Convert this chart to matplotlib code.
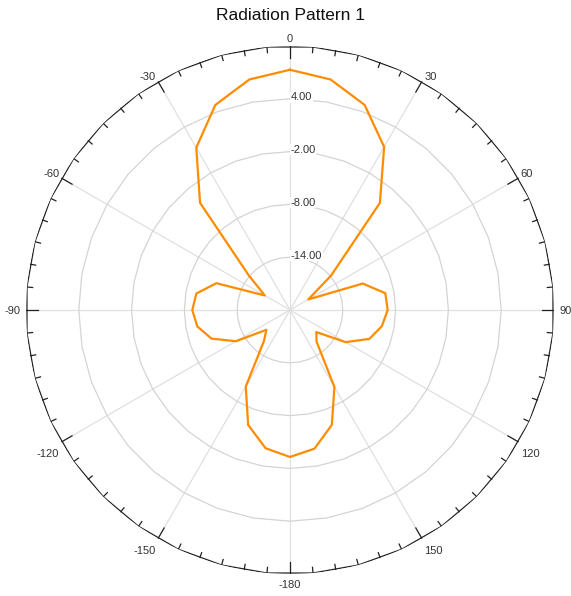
import numpy as np
import matplotlib.pyplot as plt

plt.rcParams['font.family'] = ['Liberation Sans', 'DejaVu Sans']

# angle in degrees, clockwise from north, gain in dB
angles = [0, 10, 20, 30, 40, 50, 60, 70, 80, 90, 100, 110, 120, 130, 140, 150, 160, 170,
          180, 190, 200, 210, 220, 230, 240, 250, 260, 270, 280, 290, 300, 310, 320, 330, 340, 350]
gain = [7.3, 6.6, 4.8, 1.4, -4.1, -13.9, -17.6, -11.2, -9.0, -8.9, -9.4, -10.4, -12.7, -16.1,
        -15.3, -9.9, -6.1, -4.0, -3.3, -4.05, -6.1, -9.95, -15.4, -16.5, -12.9, -10.5, -9.3,
        -8.9, -9.2, -11.1, -16.7, -13.9, -4.1, 1.3, 4.8, 6.6]
ring_vals = [-14, -8, -2, 4]
ring_labels = ['-14.00', '-8.00', '-2.00', '4.00']
spoke_angles = [0, 30, 60, 90, 120, 150, 180, 210, 240, 270, 300, 330]
spoke_labels = ['0', '30', '60', '90', '120', '150', '-180', '-150', '-120', '-90', '-60', '-30']
rmin, rmax = -20, 10

fig = plt.figure(figsize=(5.71, 5.96), dpi=100)
ax = fig.add_axes([0.0455, 0.0369, 0.9247, 0.8859], projection='polar')
ax.set_theta_zero_location('N')
ax.set_theta_direction(-1)
ax.set_ylim(rmin, rmax)
ax.grid(False)
ax.set_xticks([])
ax.set_yticks([])
ax.spines['polar'].set_visible(False)

# spokes
for a in spoke_angles:
    ax.plot([np.deg2rad(a)] * 2, [rmin, rmax], color='#e0e0e0', lw=0.9, zorder=1)

# polygonal rings
poly = np.deg2rad(np.arange(0, 361, 10))
for rv in ring_vals:
    ax.plot(poly, [rv] * len(poly), color='#d4d4d4', lw=0.9, zorder=1)

outer = np.deg2rad(np.arange(5, 366, 10))
ax.plot(outer, [rmax] * len(outer), color='#222222', lw=0.9, zorder=3)

# ticks on outer ring
for a in range(0, 360, 5):
    ln = 1.4 if a % 30 == 0 else 0.65
    ax.plot([np.deg2rad(a)] * 2, [rmax, rmax - ln], color='#222222', lw=0.9, zorder=3)

# angle labels, anchored by the corner nearest the ring
for a, lab in zip(spoke_angles, spoke_labels):
    s, c = np.sin(np.deg2rad(a)), np.cos(np.deg2rad(a))
    ha = 'left' if s > 0.1 else ('right' if s < -0.1 else 'center')
    if c > 0.1:
        va, dy = 'baseline', (3.0 if abs(s) < 0.1 else 1.0)
    elif c < -0.1:
        va, dy = 'top', (-4.5 if abs(s) < 0.1 else -5.0)
    else:
        va, dy = 'center', -1.0
    dx = 1.5 * np.sign(s) if abs(s) > 0.1 else 0
    if abs(c) < 0.1:
        dx = 4 * np.sign(s)
    ax.annotate(lab, (np.deg2rad(a), rmax), xytext=(dx, dy), textcoords='offset points',
                ha=ha, va=va, fontsize=8, color='#333333', annotation_clip=False)

# radial labels
for rv, lab in zip(ring_vals, ring_labels):
    ax.annotate(lab, (0, rv), xytext=(0.5, 1.2), textcoords='offset points', ha='left', va='center',
                fontsize=8, color='#333333', zorder=4,
                bbox=dict(boxstyle='square,pad=0.05', fc='white', ec='none'))

ax.plot(np.deg2rad(angles + [angles[0]]), gain + [gain[0]], color='#ff8c00', lw=1.6, zorder=5)

fig.text(0.508, 1 - 16 / 596, 'Radiation Pattern 1', ha='center', va='center', fontsize=12.5, color='#111111')

fig.savefig('out.png', dpi=100)
